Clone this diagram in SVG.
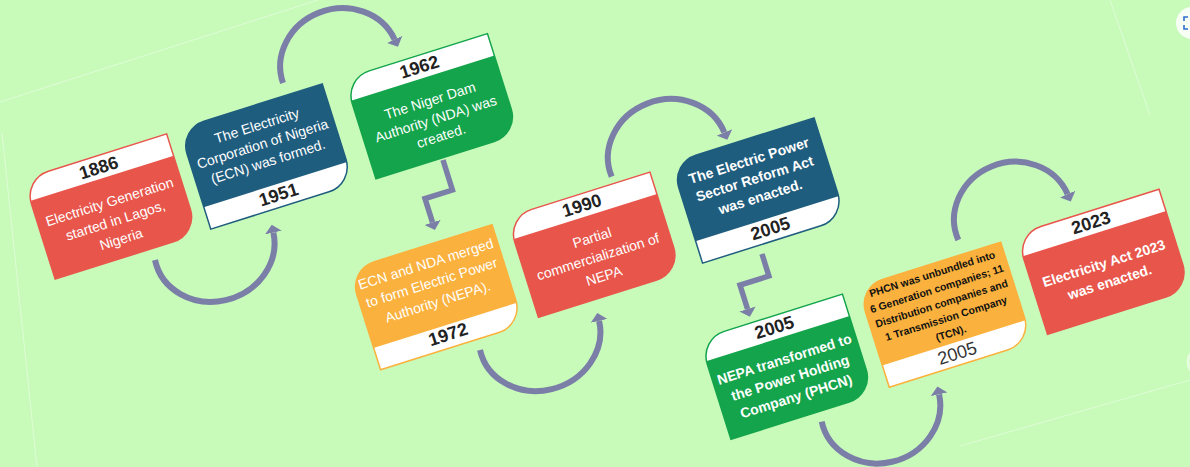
<svg xmlns="http://www.w3.org/2000/svg" xmlns:xlink="http://www.w3.org/1999/xlink" width="1190" height="467" viewBox="0 0 1190 467">
<style>
  .red{fill:#e8564b} .blue{fill:#1f5d7e} .green{fill:#14a44b} .orange{fill:#fbb13d}
  .sred{fill:none;stroke:#e8564b;stroke-width:1.5} .sblue{fill:none;stroke:#1f5d7e;stroke-width:1.5}
  .sgreen{fill:none;stroke:#14a44b;stroke-width:1.5} .sorange{fill:none;stroke:#fbb13d;stroke-width:1.5}
  .band{fill:#ffffff}
  text{font-family:"Liberation Sans",Arial,sans-serif;text-anchor:middle}
  .yr{font-size:18px;font-weight:bold;fill:#222}
  .yrr{font-size:18px;font-weight:normal;fill:#333}
  .ds{font-size:14px;fill:#ffffff}
  .db{font-size:14px;font-weight:bold;fill:#ffffff}
  .ph{font-size:10.5px;font-weight:bold;fill:#111}
  .conn path{fill:none;stroke:#7b7fa8;stroke-width:6;marker-end:url(#ah)}
  .conn path.elbow{stroke-width:5.5;stroke-linejoin:miter}
  .faint{stroke:#ffffff;stroke-opacity:0.4;stroke-width:1;fill:none}
</style>
<defs>
  <path id="box" d="M-49,-52.5 H75 V26.5 A26,26 0 0 1 49,52.5 H-75 V-26.5 A26,26 0 0 1 -49,-52.5 Z"/>
  <clipPath id="clip"><path d="M-49,-52.5 H75 V26.5 A26,26 0 0 1 49,52.5 H-75 V-26.5 A26,26 0 0 1 -49,-52.5 Z"/></clipPath>
  <marker id="ah" markerUnits="userSpaceOnUse" viewBox="0 0 8 17" markerWidth="8" markerHeight="17" refX="0" refY="8.5" orient="auto">
    <path d="M0,0 L8,8.5 L0,17 Z" fill="#7b7fa8"/>
  </marker>
</defs>

<rect x="0" y="0" width="1190" height="467" fill="#c8fbba"/>
<g id="backdrop">
  <line class="faint" x1="0" y1="102" x2="318" y2="0"/>
  <line class="faint" x1="2" y1="133" x2="37" y2="467"/>
  <line class="faint" x1="1110" y1="0" x2="1150" y2="115"/>
  <line class="faint" x1="960" y1="446" x2="1190" y2="380"/>
  <circle cx="1192" cy="23" r="16" fill="#ffffff" fill-opacity="0.85"/>
  <path d="M1188,17 h-4 v4 M1188,29 h-4 v-4" fill="none" stroke="#2f6fd0" stroke-width="1.6"/>
  <circle cx="1202" cy="362" r="14" fill="none" stroke="#ffffff" stroke-opacity="0.6" stroke-width="2.5"/>
</g>

<g id="connectors" class="conn">
  <path d="M155,260 A60.8,55 -17.5 0 0 273.4,232.6"/>
  <path d="M283,83 A60,55 -17.5 0 1 394.6,39.4"/>
  <path class="elbow" d="M443,160 L452.4,190 L425,198.6 L432.5,222.4"/>
  <path d="M480,350 A61.3,55 -17.5 0 0 599.1,320.9"/>
  <path d="M611.7,176.7 A60.5,55 -17.5 0 1 724.3,132.4"/>
  <path class="elbow" d="M762,254 L768.9,276 L740,285.1 L747.5,309"/>
  <path d="M821.7,421.7 A60.3,55 -17.5 0 0 939.1,394.3"/>
  <path d="M958.3,240 A59.3,55 -17.5 0 1 1067.6,194.1"/>
</g>

<g id="n1886" transform="translate(110.9,206.5) rotate(-17.5)">
  <use href="#box" class="red"/>
  <rect class="band" x="-76" y="-53.5" width="152" height="24" clip-path="url(#clip)"/>
  <use href="#box" class="sred"/>
  <text class="yr" x="0" y="-34.5">1886</text>
  <text class="ds"><tspan x="0" y="0">Electricity Generation</tspan><tspan x="0" y="19.5">started in Lagos,</tspan><tspan x="0" y="39">Nigeria</tspan></text>
</g>

<g id="n1951" transform="translate(266.5,156.5) rotate(-17.5)">
  <use href="#box" class="blue"/>
  <rect class="band" x="-76" y="29.5" width="152" height="24" clip-path="url(#clip)"/>
  <use href="#box" class="sblue"/>
  <text class="yr" x="0" y="46">1951</text>
  <text class="ds"><tspan x="0" y="-27.5">The Electricity</tspan><tspan x="0" y="-8.5">Corporation of Nigeria</tspan><tspan x="0" y="10">(ECN) was formed.</tspan></text>
</g>

<g id="n1962" transform="translate(431.7,106.2) rotate(-17.5)">
  <use href="#box" class="green"/>
  <rect class="band" x="-76" y="-53.5" width="152" height="24" clip-path="url(#clip)"/>
  <use href="#box" class="sgreen"/>
  <text class="yr" x="0" y="-35">1962</text>
  <text class="ds"><tspan x="0" y="-1">The Niger Dam</tspan><tspan x="0" y="18">Authority (NDA) was</tspan><tspan x="0" y="36">created.</tspan></text>
</g>

<g id="n1972" transform="translate(436.3,297.2) rotate(-17.5)">
  <use href="#box" class="orange"/>
  <rect class="band" x="-76" y="29.5" width="152" height="24" clip-path="url(#clip)"/>
  <use href="#box" class="sorange"/>
  <text class="yr" x="0" y="45">1972</text>
  <text class="ds"><tspan x="0" y="-30">ECN and NDA merged</tspan><tspan x="0" y="-10.5">to form Electric Power</tspan><tspan x="0" y="9.5">Authority (NEPA).</tspan></text>
</g>

<g id="n1990" transform="translate(594.2,244.7) rotate(-17.5)">
  <use href="#box" class="red"/>
  <rect class="band" x="-76" y="-53.5" width="152" height="24" clip-path="url(#clip)"/>
  <use href="#box" class="sred"/>
  <text class="yr" x="0" y="-35">1990</text>
  <text class="ds"><tspan x="0" y="-2.5">Partial</tspan><tspan x="0" y="17.5">commercialization of</tspan><tspan x="0" y="37.5">NEPA</tspan></text>
</g>

<g id="n2005a" transform="translate(758.3,190.5) rotate(-17.5)">
  <use href="#box" class="blue"/>
  <rect class="band" x="-76" y="29.5" width="152" height="24" clip-path="url(#clip)"/>
  <use href="#box" class="sblue"/>
  <text class="yr" x="0" y="46">2005</text>
  <text class="db"><tspan x="0" y="-26.5">The Electric Power</tspan><tspan x="0" y="-7.5">Sector Reform Act</tspan><tspan x="0" y="11.5">was enacted.</tspan></text>
</g>

<g id="n2005b" transform="translate(786.7,366.7) rotate(-17.5)">
  <use href="#box" class="green"/>
  <rect class="band" x="-76" y="-53.5" width="152" height="24" clip-path="url(#clip)"/>
  <use href="#box" class="sgreen"/>
  <text class="yr" x="0" y="-35">2005</text>
  <text class="db"><tspan x="0" y="-3">NEPA transformed to</tspan><tspan x="0" y="16.5">the Power Holding</tspan><tspan x="0" y="36">Company (PHCN)</tspan></text>
</g>

<g id="n2005c" transform="translate(945,314.7) rotate(-17.5)">
  <use href="#box" class="orange"/>
  <rect class="band" x="-76" y="29.5" width="152" height="24" clip-path="url(#clip)"/>
  <use href="#box" class="sorange"/>
  <text class="yrr" x="0" y="46.5">2005</text>
  <text class="ph"><tspan x="0" y="-39">PHCN was unbundled into</tspan><tspan x="0" y="-23.5">6 Generation companies; 11</tspan><tspan x="0" y="-8">Distribution companies and</tspan><tspan x="0" y="7.5">1 Transmission Company</tspan><tspan x="0" y="23">(TCN).</tspan></text>
</g>

<g id="n2023" transform="translate(1103.3,261.8) rotate(-17.5)">
  <use href="#box" class="red"/>
  <rect class="band" x="-76" y="-53.5" width="152" height="24" clip-path="url(#clip)"/>
  <use href="#box" class="sred"/>
  <text class="yr" x="0" y="-35">2023</text>
  <text class="db"><tspan x="0" y="6.5">Electricity Act 2023</tspan><tspan x="0" y="26">was enacted.</tspan></text>
</g>
</svg>
